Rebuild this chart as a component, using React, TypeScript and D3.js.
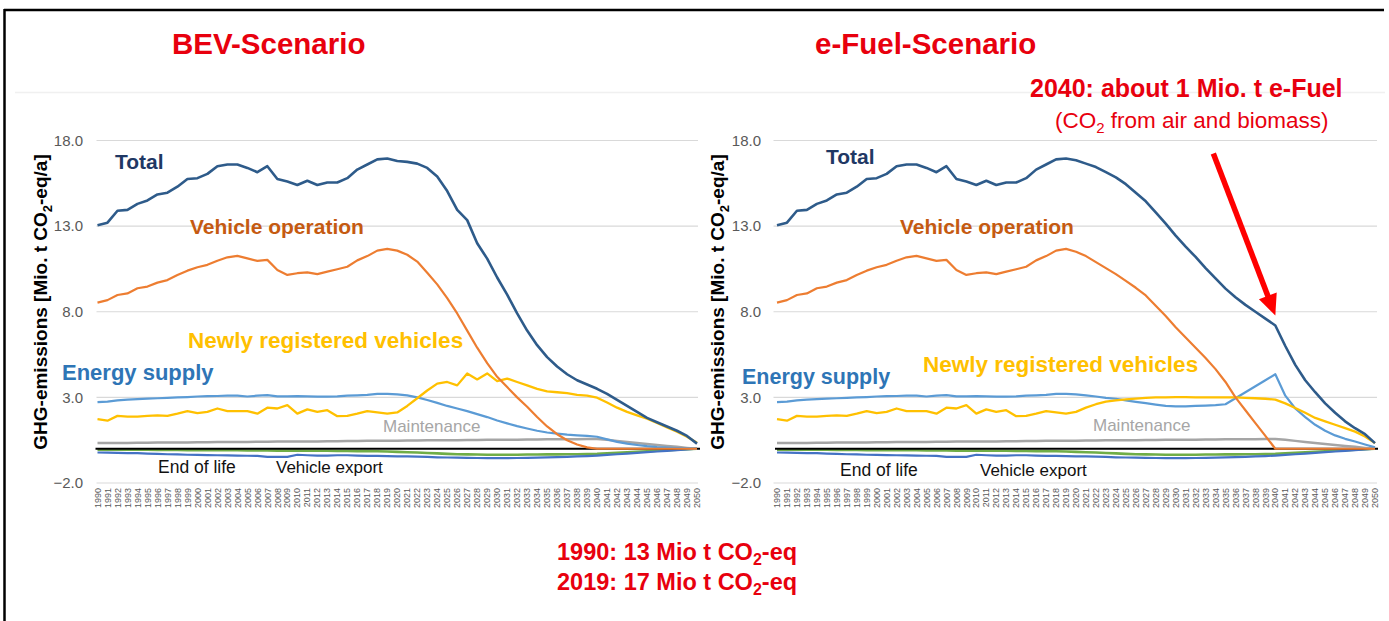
import React from 'react';
import * as d3 from 'd3';

// categories
const years = d3.range(1990, 2051);
const yTicks = [-2, 3, 8, 13, 18];

// shared history 1990-2019 (Mio. t CO2-eq/a)
const totalHist = [13.05, 13.2, 13.9, 13.95, 14.3, 14.5, 14.85, 14.95, 15.3, 15.75, 15.8, 16.05, 16.5, 16.6, 16.6, 16.4, 16.15, 16.5, 15.75, 15.6, 15.4, 15.65, 15.4, 15.55, 15.55, 15.8, 16.3, 16.6, 16.9, 16.95];
const operationHist = [8.53, 8.68, 8.98, 9.07, 9.37, 9.47, 9.7, 9.85, 10.15, 10.4, 10.6, 10.74, 10.98, 11.18, 11.26, 11.12, 10.97, 11.03, 10.44, 10.15, 10.25, 10.3, 10.2, 10.34, 10.48, 10.63, 11.0, 11.25, 11.57, 11.67];
const newlyHist = [1.73, 1.64, 1.92, 1.88, 1.88, 1.92, 1.95, 1.92, 2.05, 2.2, 2.08, 2.15, 2.35, 2.2, 2.2, 2.2, 2.05, 2.4, 2.35, 2.55, 2.05, 2.3, 2.15, 2.25, 1.9, 1.92, 2.05, 2.2, 2.12, 2.05];
const energyHist = [2.72, 2.75, 2.82, 2.87, 2.9, 2.93, 2.95, 2.97, 3.0, 3.02, 3.05, 3.07, 3.08, 3.1, 3.1, 3.05, 3.1, 3.13, 3.06, 3.06, 3.07, 3.06, 3.04, 3.04, 3.06, 3.1, 3.12, 3.15, 3.2, 3.2];
const maintHist = [0.33, 0.33, 0.34, 0.34, 0.35, 0.35, 0.36, 0.36, 0.37, 0.37, 0.38, 0.38, 0.39, 0.39, 0.4, 0.4, 0.41, 0.41, 0.42, 0.42, 0.43, 0.43, 0.43, 0.44, 0.44, 0.45, 0.45, 0.46, 0.46, 0.47];
const endOfLifeHist = [-0.05, -0.05, -0.05, -0.06, -0.06, -0.06, -0.07, -0.07, -0.07, -0.08, -0.08, -0.08, -0.09, -0.09, -0.09, -0.1, -0.1, -0.1, -0.11, -0.11, -0.11, -0.12, -0.12, -0.12, -0.13, -0.13, -0.14, -0.14, -0.15, -0.16];
const exportHist = [-0.22, -0.23, -0.24, -0.25, -0.26, -0.28, -0.3, -0.32, -0.33, -0.35, -0.36, -0.37, -0.38, -0.39, -0.4, -0.41, -0.42, -0.47, -0.48, -0.47, -0.35, -0.38, -0.4, -0.4, -0.38, -0.38, -0.4, -0.42, -0.42, -0.43];

// BEV scenario 2020-2050
const totalBev = [16.8, 16.75, 16.65, 16.4, 15.9, 15.05, 13.95, 13.35, 12.0, 11.1, 10.0, 9.0, 7.9, 6.9, 6.05, 5.35, 4.8, 4.35, 4.0, 3.75, 3.5, 3.2, 2.85, 2.5, 2.15, 1.8, 1.55, 1.3, 1.05, 0.75, 0.3];
const operationBev = [11.57, 11.33, 10.93, 10.28, 9.6, 8.8, 7.9, 6.9, 5.9, 5.0, 4.2, 3.6, 3.0, 2.45, 1.85, 1.3, 0.85, 0.5, 0.25, 0.08, 0, 0, 0, 0, 0, 0, 0, 0, 0, 0, 0];
const newlyBev = [2.12, 2.5, 2.95, 3.4, 3.8, 3.9, 3.7, 4.4, 4.05, 4.4, 3.95, 4.1, 3.9, 3.7, 3.5, 3.35, 3.3, 3.25, 3.15, 3.1, 2.98, 2.7, 2.4, 2.15, 1.95, 1.75, 1.5, 1.25, 1.0, 0.7, 0.35];
const energyBev = [3.17, 3.12, 3.0, 2.85, 2.68, 2.5, 2.35, 2.2, 2.02, 1.85, 1.65, 1.48, 1.32, 1.18, 1.05, 0.95, 0.88, 0.82, 0.78, 0.75, 0.7, 0.55, 0.4, 0.3, 0.22, 0.15, 0.1, 0.07, 0.04, 0.02, 0];

// e-Fuel scenario 2020-2050
const totalEfuel = [16.85, 16.65, 16.45, 16.15, 15.85, 15.45, 14.95, 14.45, 13.8, 13.15, 12.45, 11.8, 11.2, 10.55, 9.95, 9.35, 8.85, 8.4, 8.0, 7.6, 7.2, 6.0, 4.9, 4.0, 3.3, 2.65, 2.1, 1.6, 1.2, 0.85, 0.33];
const operationEfuel = [11.5, 11.25, 10.9, 10.55, 10.2, 9.8, 9.4, 8.95, 8.35, 7.75, 7.1, 6.5, 5.9, 5.3, 4.65, 3.9, 3.0, 2.25, 1.5, 0.75, 0, 0, 0, 0, 0, 0, 0, 0, 0, 0, 0];
const newlyEfuel = [2.15, 2.4, 2.6, 2.75, 2.82, 2.88, 2.93, 2.97, 3.0, 3.0, 3.02, 3.02, 3.0, 3.0, 3.0, 3.0, 3.0, 2.97, 2.95, 2.92, 2.87, 2.65, 2.38, 2.1, 1.8, 1.6, 1.4, 1.2, 1.0, 0.72, 0.33];
const energyEfuel = [3.17, 3.12, 3.05, 2.97, 2.92, 2.82, 2.74, 2.66, 2.58, 2.5, 2.47, 2.48, 2.5, 2.52, 2.55, 2.6, 2.95, 3.3, 3.65, 4.0, 4.35, 3.1, 2.35, 1.85, 1.4, 1.05, 0.78, 0.58, 0.42, 0.25, 0.08];

// same in both scenarios 2020-2050
const maintFuture = [0.47, 0.48, 0.48, 0.49, 0.49, 0.5, 0.5, 0.51, 0.51, 0.52, 0.52, 0.53, 0.53, 0.54, 0.54, 0.55, 0.55, 0.56, 0.56, 0.57, 0.57, 0.52, 0.46, 0.4, 0.34, 0.28, 0.22, 0.16, 0.11, 0.05, 0];
const endOfLifeFuture = [-0.18, -0.2, -0.22, -0.25, -0.27, -0.3, -0.32, -0.33, -0.34, -0.35, -0.35, -0.35, -0.35, -0.34, -0.34, -0.33, -0.33, -0.32, -0.32, -0.31, -0.3, -0.27, -0.24, -0.21, -0.18, -0.15, -0.12, -0.09, -0.06, -0.03, 0];
const exportFuture = [-0.44, -0.45, -0.46, -0.48, -0.5, -0.51, -0.52, -0.53, -0.54, -0.55, -0.55, -0.55, -0.54, -0.53, -0.52, -0.5, -0.49, -0.47, -0.45, -0.43, -0.4, -0.36, -0.32, -0.28, -0.24, -0.2, -0.16, -0.12, -0.08, -0.04, 0];

const FONT = "'Liberation Sans', Arial, Helvetica, sans-serif";
const RED = '#E8000E';

type Series = { values: number[]; color: string; width: number };
type Label = { text: string; x: number; y: number; size: number; color: string; bold?: boolean };

const yScale = d3.scaleLinear().domain([-2, 18]).range([483, 140.5]);

function buildSeries(total: number[], op: number[], newly: number[], energy: number[]): Series[] {
  return [
    { values: [...endOfLifeHist, ...endOfLifeFuture], color: '#70AD47', width: 2.6 },
    { values: [...exportHist, ...exportFuture], color: '#4472C4', width: 2.2 },
    { values: years.map(() => 0), color: '#000000', width: 2 },
    { values: [...maintHist, ...maintFuture], color: '#A5A5A5', width: 2.5 },
    { values: [...energyHist, ...energy], color: '#5B9BD5', width: 2.2 },
    { values: [...newlyHist, ...newly], color: '#FFC000', width: 2.3 },
    { values: [...operationHist, ...op], color: '#ED7D31', width: 2.2 },
    { values: [...totalHist, ...total], color: '#2E5B8A', width: 2.6 },
  ];
}

function Panel(props: {
  range: [number, number];
  grid: [number, number];
  tickX: number;
  titleX: number;
  series: Series[];
  labels: Label[];
}) {
  const { range, grid, tickX, titleX, series, labels } = props;
  const x = d3.scaleLinear().domain([1990, 2050]).range(range);
  const line = d3
    .line<number>()
    .x((d, i) => x(years[i]))
    .y(d => yScale(d));

  return (
    <g>
      {yTicks.map(t => (
        <g key={t}>
          <line x1={grid[0]} x2={grid[1]} y1={yScale(t)} y2={yScale(t)} stroke="#D9D9D9" strokeWidth={1.2} />
          <text x={tickX} y={yScale(t)} dy="0.35em" textAnchor="end" fontSize={15} fill="#595959">
            {d3.format('.1f')(t)}
          </text>
        </g>
      ))}
      {years.map(yr => (
        <text
          key={yr}
          transform={`translate(${x(yr)},488) rotate(-90)`}
          dy="0.35em"
          textAnchor="end"
          fontSize={9}
          fill="#595959"
        >
          {yr}
        </text>
      ))}
      <text
        transform={`translate(${titleX},302) rotate(-90)`}
        dy="0.35em"
        textAnchor="middle"
        fontSize={19}
        fontWeight="bold"
        fill="#000"
      >
        GHG-emissions [Mio. t CO
        <tspan dy={5} fontSize={13}>2</tspan>
        <tspan dy={-5}>-eq/a]</tspan>
      </text>
      {series.map((s, i) =>
        s.color === '#000000' ? (
          <line
            key={i}
            x1={x(1990) - 2}
            x2={x(2050) + 3}
            y1={yScale(0)}
            y2={yScale(0)}
            stroke="#000"
            strokeWidth={s.width}
          />
        ) : (
          <path
            key={i}
            d={line(s.values) || ''}
            fill="none"
            stroke={s.color}
            strokeWidth={s.width}
            strokeLinejoin="round"
          />
        )
      )}
      {labels.map(l => (
        <text key={l.text} x={l.x} y={l.y} fontSize={l.size} fontWeight={l.bold ? 'bold' : 'normal'} fill={l.color}>
          {l.text}
        </text>
      ))}
    </g>
  );
}

const leftLabels: Label[] = [
  { text: 'Total', x: 115, y: 169, size: 21, color: '#1F3864', bold: true },
  { text: 'Vehicle operation', x: 190, y: 234, size: 21, color: '#C55A11', bold: true },
  { text: 'Newly registered vehicles', x: 188, y: 348, size: 22.5, color: '#FFC000', bold: true },
  { text: 'Energy supply', x: 62, y: 380, size: 22, color: '#2E75B6', bold: true },
  { text: 'Maintenance', x: 383, y: 432, size: 17, color: '#A6A6A6' },
  { text: 'End of life', x: 158, y: 473, size: 17.5, color: '#111' },
  { text: 'Vehicle export', x: 276, y: 473, size: 17, color: '#111' },
];

const rightLabels: Label[] = [
  { text: 'Total', x: 826, y: 164, size: 21, color: '#1F3864', bold: true },
  { text: 'Vehicle operation', x: 900, y: 234, size: 21, color: '#C55A11', bold: true },
  { text: 'Newly registered vehicles', x: 923, y: 372, size: 22.5, color: '#FFC000', bold: true },
  { text: 'Energy supply', x: 742, y: 384, size: 21.5, color: '#2E75B6', bold: true },
  { text: 'Maintenance', x: 1093, y: 431, size: 17, color: '#A6A6A6' },
  { text: 'End of life', x: 840, y: 476, size: 17.5, color: '#111' },
  { text: 'Vehicle export', x: 980, y: 476, size: 17, color: '#111' },
];

export default function App() {
  const rightRange: [number, number] = [777, 1375];
  const xRight = d3.scaleLinear().domain([1990, 2050]).range(rightRange);

  // arrow pointing at the 2040 e-Fuel total
  const tip: [number, number] = [xRight(2040), yScale(totalEfuel[20]) - 10];
  const tail: [number, number] = [tip[0] - 62, tip[1] - 162];
  const len = Math.hypot(tip[0] - tail[0], tip[1] - tail[1]);
  const ux = (tip[0] - tail[0]) / len;
  const uy = (tip[1] - tail[1]) / len;
  const headLen = 21;
  const half = 9.5;
  const bx = tip[0] - ux * headLen;
  const by = tip[1] - uy * headLen;
  const head = [
    [tip[0], tip[1]],
    [bx - uy * half, by + ux * half],
    [bx + uy * half, by - ux * half],
  ]
    .map(p => p.join(','))
    .join(' ');

  return (
    <svg
      width={1389}
      height={621}
      style={{ position: 'absolute', left: 0, top: 0, background: '#fff' }}
      fontFamily={FONT}
    >
      <rect width={1389} height={621} fill="#fff" />
      <line x1={4} x2={1384} y1={10} y2={10} stroke="#000" strokeWidth={2.5} />
      <line x1={4.5} x2={4.5} y1={9} y2={621} stroke="#000" strokeWidth={2.5} />
      <line x1={15} x2={1385} y1={92.5} y2={92.5} stroke="#F0F0F0" strokeWidth={1.5} />

      <text x={172} y={54} fontSize={29.5} fontWeight="bold" fill={RED}>BEV-Scenario</text>
      <text x={815} y={54} fontSize={29.5} fontWeight="bold" fill={RED}>e-Fuel-Scenario</text>

      <Panel
        range={[97.5, 697]}
        grid={[96.5, 698]}
        tickX={83}
        titleX={40}
        series={buildSeries(totalBev, operationBev, newlyBev, energyBev)}
        labels={leftLabels}
      />
      <Panel
        range={rightRange}
        grid={[773.5, 1377]}
        tickX={761}
        titleX={717}
        series={buildSeries(totalEfuel, operationEfuel, newlyEfuel, energyEfuel)}
        labels={rightLabels}
      />

      <text x={1030} y={97} fontSize={25} fontWeight="bold" fill={RED}>2040: about 1 Mio. t e-Fuel</text>
      <text x={1055} y={128} fontSize={22.5} fill={RED}>
        (CO<tspan dy={5} fontSize={15}>2</tspan>
        <tspan dy={-5}> from air and biomass)</tspan>
      </text>
      <line x1={tail[0]} y1={tail[1]} x2={bx + ux * 2} y2={by + uy * 2} stroke="#FF0000" strokeWidth={5.5} />
      <polygon points={head} fill="#FF0000" />

      <text x={557} y={560} fontSize={23.5} fontWeight="bold" fill={RED}>
        1990: 13 Mio t CO<tspan dy={5} fontSize={16}>2</tspan>
        <tspan dy={-5}>-eq</tspan>
      </text>
      <text x={557} y={590} fontSize={23.5} fontWeight="bold" fill={RED}>
        2019: 17 Mio t CO<tspan dy={5} fontSize={16}>2</tspan>
        <tspan dy={-5}>-eq</tspan>
      </text>
    </svg>
  );
}
